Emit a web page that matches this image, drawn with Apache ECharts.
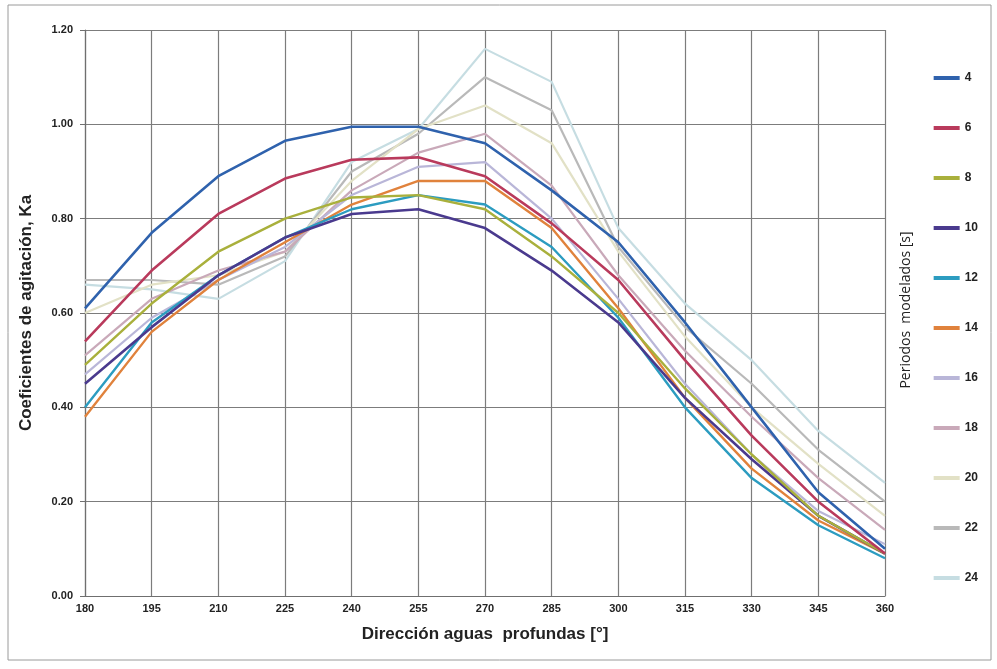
<!DOCTYPE html>
<html>
<head>
<meta charset="utf-8">
<script src="https://cdn.jsdelivr.net/npm/echarts@6/dist/echarts.min.js"></script>
<style>
  html, body { margin: 0; padding: 0; background: #ffffff; }
  #chart { width: 997px; height: 669px; }
</style>
</head>
<body>
<div id="chart"></div>
<script>
// Deep-water wave direction (degrees)
const directions = [180, 195, 210, 225, 240, 255, 270, 285, 300, 315, 330, 345, 360];

// Modelled wave periods (s)
const periods = ['4', '6', '8', '10', '12', '14', '16', '18', '20', '22', '24'];

// Agitation coefficient Ka per period, one value per direction
const ka4  = [0.61, 0.77, 0.89, 0.965, 0.995, 0.995, 0.96, 0.86, 0.75, 0.58, 0.40, 0.22, 0.10];
const ka6  = [0.54, 0.69, 0.81, 0.885, 0.925, 0.93, 0.89, 0.79, 0.67, 0.50, 0.34, 0.20, 0.09];
const ka8  = [0.49, 0.62, 0.73, 0.80, 0.845, 0.85, 0.82, 0.72, 0.60, 0.44, 0.30, 0.17, 0.09];
const ka10 = [0.45, 0.57, 0.68, 0.76, 0.81, 0.82, 0.78, 0.69, 0.58, 0.42, 0.29, 0.17, 0.09];
const ka12 = [0.40, 0.58, 0.68, 0.76, 0.82, 0.85, 0.83, 0.74, 0.59, 0.40, 0.25, 0.15, 0.08];
const ka14 = [0.38, 0.56, 0.67, 0.75, 0.83, 0.88, 0.88, 0.78, 0.61, 0.42, 0.27, 0.16, 0.09];
const ka16 = [0.47, 0.59, 0.67, 0.74, 0.85, 0.91, 0.92, 0.80, 0.63, 0.45, 0.30, 0.18, 0.11];
const ka18 = [0.51, 0.63, 0.69, 0.73, 0.86, 0.94, 0.98, 0.87, 0.68, 0.52, 0.38, 0.25, 0.14];
const ka20 = [0.60, 0.66, 0.68, 0.73, 0.88, 0.99, 1.04, 0.96, 0.73, 0.55, 0.40, 0.28, 0.17];
const ka22 = [0.67, 0.67, 0.66, 0.72, 0.90, 0.98, 1.10, 1.03, 0.74, 0.57, 0.45, 0.31, 0.20];
const ka24 = [0.66, 0.65, 0.63, 0.71, 0.92, 0.99, 1.16, 1.09, 0.78, 0.62, 0.50, 0.35, 0.24];

const kaSeries = [ka4, ka6, ka8, ka10, ka12, ka14, ka16, ka18, ka20, ka22, ka24];

const colors = ['#2f62ad', '#b93a5c', '#a9b03c', '#4a3a8e', '#2c9cc0', '#e0823c',
                '#b9b6d8', '#c9a9b9', '#e2e1c6', '#b9b9b9', '#c6dde2'];
const widths = [2.6, 2.6, 2.4, 2.6, 2.4, 2.4, 2.2, 2.2, 2.2, 2.2, 2.2];

const font = '"Liberation Sans Narrow", "Liberation Sans", Arial, sans-serif';

const chart = echarts.init(document.getElementById('chart'));

chart.setOption({
  backgroundColor: '#ffffff',
  animation: false,
  color: colors,
  grid: { left: 85, right: 112, top: 30, bottom: 73 },
  xAxis: {
    type: 'value',
    min: 180, max: 360, interval: 15,
    name: 'Dirección aguas  profundas [°]',
    nameLocation: 'middle',
    nameGap: 30,
    nameTextStyle: { fontFamily: 'Liberation Sans, Arial, sans-serif', fontWeight: 'bold', fontSize: 17, color: '#222' },
    axisLine: { lineStyle: { color: '#6f6f6f', width: 1.2 } },
    axisTick: { show: false },
    splitLine: { show: true, lineStyle: { color: '#7c7c7c', width: 1.2 } },
    axisLabel: { fontFamily: font, fontWeight: 'bold', fontSize: 11, color: '#222', margin: 7 }
  },
  yAxis: {
    type: 'value',
    min: 0, max: 1.2, interval: 0.2,
    name: 'Coeficientes de agitación, Ka',
    nameLocation: 'middle',
    nameGap: 50,
    nameTextStyle: { fontFamily: 'Liberation Sans, Arial, sans-serif', fontWeight: 'bold', fontSize: 17, color: '#222' },
    axisLine: { show: true, lineStyle: { color: '#6f6f6f', width: 1.2 } },
    axisTick: { show: true, length: 5, lineStyle: { color: '#6f6f6f' } },
    splitLine: { lineStyle: { color: '#7c7c7c', width: 1.2 } },
    axisLabel: {
      fontFamily: font, fontWeight: 'bold', fontSize: 11, color: '#222', margin: 12,
      formatter: v => v.toFixed(2)
    }
  },
  legend: {
    orient: 'vertical',
    right: 14,
    top: 66,
    itemWidth: 26,
    itemHeight: 4,
    itemGap: 36,
    icon: 'rect',
    data: periods,
    textStyle: { fontFamily: font, fontWeight: 'bold', fontSize: 12, color: '#222', lineHeight: 14 }
  },
  graphic: [
    {
      type: 'rect',
      shape: { x: 8, y: 5, width: 983, height: 655 },
      style: { fill: 'none', stroke: '#9a9a9a', lineWidth: 1 },
      silent: true, z: -1
    },
    {
      type: 'text',
      x: 906, y: 310,
      rotation: Math.PI / 2,
      style: {
        text: 'Periodos  modelados [s]',
        fontFamily: '"Open Sans", "Liberation Sans", sans-serif',
        fontSize: 14,
        fill: '#222',
        textAlign: 'center',
        textVerticalAlign: 'middle'
      },
      silent: true
    }
  ],
  series: kaSeries.map((vals, i) => ({
    name: periods[i],
    type: 'line',
    data: directions.map((d, j) => [d, vals[j]]),
    showSymbol: false,
    lineStyle: { width: widths[i], color: colors[i] },
    itemStyle: { color: colors[i] },
    z: 20 - i
  }))
});
</script>
</body>
</html>
